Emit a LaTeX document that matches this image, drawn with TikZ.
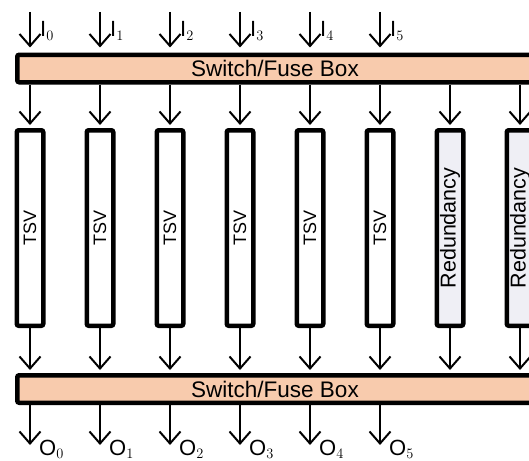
\documentclass[tikz,border=0pt]{standalone}
\usepackage{fontspec}
\setmainfont{Liberation Sans}
\usetikzlibrary{arrows.meta}
\definecolor{peach}{HTML}{F8CBAD}
\definecolor{lav}{HTML}{EFEFF5}
\begin{document}
\begin{tikzpicture}[x=1pt,y=-1pt,
 swbox/.style={draw, line width=4.5pt, fill=peach, rounded corners=2pt, minimum width=515.5pt, minimum height=27.5pt, inner sep=0pt, font=\fontsize{22.5}{24}\selectfont},
 tsvbox/.style={draw, line width=4.5pt, fill=white, rounded corners=2pt, minimum width=26.5pt, minimum height=195.5pt, inner sep=0pt},
 redbox/.style={tsvbox, fill=lav},
 arr/.style={line width=2pt, -{Straight Barb[length=12pt,width=21pt]}},
 lbl/.style={anchor=base west, inner sep=0pt, font=\fontsize{22}{24}\selectfont}
]
\useasboundingbox (0,0) rectangle (529,460);
\node[swbox] (sw1) at (275,68.5) {Switch/Fuse Box};
\node[swbox] (sw2) at (275,389) {Switch/Fuse Box};
\foreach \k in {0,...,5} {
  \node[tsvbox] (t\k) at (30+70*\k,228) {\rotatebox{90}{\fontsize{18}{20}\selectfont TSV}};
}
\node[redbox] (t6) at (450,228) {\rotatebox{90}{\fontsize{21.5}{23}\selectfont Redundancy}};
\node[redbox] (t7) at (520,228) {\rotatebox{90}{\fontsize{21.5}{23}\selectfont Redundancy}};
\foreach \k in {0,...,5} {
  \coordinate (i\k) at (30+70*\k,12);
  \draw[arr, shorten >=5pt] (i\k) -- (i\k |- sw1.north);
  \node[lbl] (li\k) at (40+70*\k,37) {I$_{\k}$};
  \coordinate (o\k) at (30+70*\k,445);
  \draw[arr] (o\k |- sw2.south) -- (o\k);
  \node[lbl] (lo\k) at (39+70*\k,455.5) {O$_{\k}$};
}
\foreach \k in {0,...,7} {
  \draw[arr, shorten >=3pt] (t\k.north |- sw1.south) -- (t\k.north);
  \draw[arr, shorten >=3pt] (t\k.south) -- (t\k.south |- sw2.north);
}
\end{tikzpicture}
\end{document}
